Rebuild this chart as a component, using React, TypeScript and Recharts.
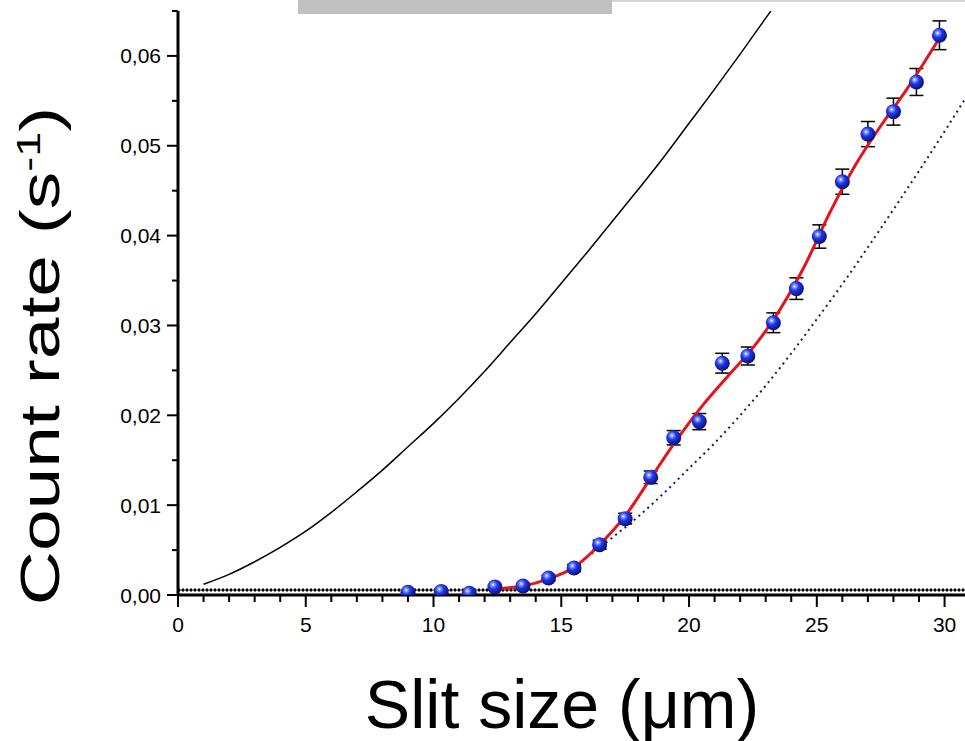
import React from 'react'
import {
  ComposedChart, Line, Scatter, ErrorBar, XAxis, YAxis, ReferenceLine
} from 'recharts'

// measured points
const slitSize = [9.0, 10.3, 11.4, 12.4, 13.5, 14.5, 15.5, 16.5, 17.5, 18.5, 19.4, 20.4, 21.3, 22.3, 23.3, 24.2, 25.1, 26.0, 27.0, 28.0, 28.9, 29.8]
const countRate = [0.0003, 0.0004, 0.0002, 0.0009, 0.0010, 0.0019, 0.0030, 0.0056, 0.0085, 0.0131, 0.0175, 0.0193, 0.0258, 0.0266, 0.0303, 0.0341, 0.0399, 0.0460, 0.0513, 0.0538, 0.0571, 0.0623]
const countErr = [0.0002, 0.0002, 0.0002, 0.0002, 0.0003, 0.0003, 0.0004, 0.0005, 0.0006, 0.0007, 0.0008, 0.0009, 0.0011, 0.0010, 0.0011, 0.0012, 0.0013, 0.0014, 0.0014, 0.0015, 0.0015, 0.0016]

// fit (red)
const fitX = [12.4, 13.5, 14.5, 15.5, 16.5, 17.5, 18.5, 19.5, 20.5, 21.5, 22.5, 23.5, 24.5, 25.5, 26.5, 27.5, 28.5, 29.8]
const fitY = [0.0007, 0.0010, 0.0018, 0.0031, 0.0056, 0.0088, 0.0130, 0.0172, 0.0210, 0.0243, 0.0275, 0.0315, 0.0365, 0.0425, 0.0478, 0.0522, 0.0562, 0.0620]

// ideal curve (solid black)
const idealX = [1, 2, 3, 4, 5, 6, 7, 8, 9, 10, 11, 12, 13, 14, 15, 16, 17, 18, 19, 20, 21, 22, 23, 23.2]
const idealY = [0.0012, 0.0023, 0.0037, 0.0053, 0.0071, 0.0092, 0.0115, 0.0139, 0.0165, 0.0191, 0.0219, 0.0249, 0.0281, 0.0313, 0.0347, 0.0381, 0.0416, 0.0451, 0.0487, 0.0525, 0.0563, 0.0602, 0.0642, 0.0650]

// model curve (dotted)
const modelX = [16, 17, 18, 19, 20, 21, 22, 23, 24, 25, 26, 27, 28, 29, 30, 30.8]
const modelY = [0.0042, 0.0064, 0.0087, 0.0113, 0.0141, 0.0169, 0.0200, 0.0233, 0.0269, 0.0307, 0.0346, 0.0387, 0.0429, 0.0472, 0.0516, 0.0552]

const background = 0.00055

const xTicks = Array.from({ length: 31 }, (_, i) => i)
const yTicks = [0, 0.005, 0.01, 0.015, 0.02, 0.025, 0.03, 0.035, 0.04, 0.045, 0.05, 0.055, 0.06, 0.065]

const FONT = '"Liberation Sans", Arial, sans-serif'

const points = slitSize.map((x, i) => ({ x, y: countRate[i], err: countErr[i] }))
const fit = fitX.map((x, i) => ({ x, y: fitY[i] }))
const ideal = idealX.map((x, i) => ({ x, y: idealY[i] }))
const model = modelX.map((x, i) => ({ x, y: modelY[i] }))

function XTick(props: any) {
  const { x, y, payload } = props
  const major = payload.value % 5 === 0
  return (
    <g>
      <line x1={x} x2={x} y1={y} y2={y + (major ? 12 : 7)} stroke="#000" strokeWidth={2} />
      {major && (
        <text x={x} y={y + 37} textAnchor="middle" fontSize={21} fontFamily={FONT} fill="#000">
          {payload.value}
        </text>
      )}
    </g>
  )
}

function YTick(props: any) {
  const { x, y, payload } = props
  const v = payload.value
  const major = Math.round(v * 1000) % 10 === 0
  return (
    <g>
      <line x1={x} x2={x - (major ? 11 : 6)} y1={y} y2={y} stroke="#000" strokeWidth={2} />
      {major && (
        <text x={x - 17} y={y + 7.5} textAnchor="end" fontSize={21} fontFamily={FONT} fill="#000">
          {v.toFixed(2).replace('.', ',')}
        </text>
      )}
    </g>
  )
}

function Ball(props: any) {
  const { cx, cy } = props
  if (cx == null || cy == null) return null
  return <circle cx={cx} cy={cy} r={7.5} fill="url(#ball)" />
}

export default function App() {
  return (
    <div style={{ position: 'absolute', left: 0, top: 0, width: 965, height: 741, background: '#fff', overflow: 'hidden' }}>
      <svg width={0} height={0} style={{ position: 'absolute' }}>
        <defs>
          <radialGradient id="ball" cx="38%" cy="35%" r="65%">
            <stop offset="0%" stopColor="#ffffff" />
            <stop offset="18%" stopColor="#7f95ff" />
            <stop offset="45%" stopColor="#1f35f0" />
            <stop offset="100%" stopColor="#0c1070" />
          </radialGradient>
        </defs>
      </svg>
      <div style={{ position: 'absolute', left: 298, top: 0, width: 314, height: 14, background: '#c0c0c0' }} />
      <div style={{ position: 'absolute', left: 612, top: 0, width: 353, height: 2, background: '#d4d4d4' }} />
      <ComposedChart width={965} height={741} margin={{ top: 11, right: 0, bottom: 0, left: 0 }}>
        <XAxis
          type="number"
          dataKey="x"
          domain={[0, 30.8]}
          ticks={xTicks}
          interval={0}
          height={146}
          tickSize={0}
          tickMargin={0}
          tickLine={false}
          tick={<XTick />}
          axisLine={{ stroke: '#000', strokeWidth: 3 }}
          allowDataOverflow
        />
        <YAxis
          type="number"
          dataKey="y"
          domain={[0, 0.065]}
          ticks={yTicks}
          interval={0}
          width={178}
          tickSize={0}
          tickMargin={0}
          tickLine={false}
          tick={<YTick />}
          axisLine={{ stroke: '#000', strokeWidth: 3 }}
          allowDataOverflow
        />
        <ReferenceLine y={background} stroke="#000" strokeWidth={1} />
        <ReferenceLine y={background} stroke="#000" strokeWidth={3} strokeDasharray="2 2" />
        <Line data={ideal} dataKey="y" type="monotone" stroke="#000" strokeWidth={1.5} dot={false} isAnimationActive={false} />
        <Line data={model} dataKey="y" type="monotone" stroke="#1a1a50" strokeWidth={2} strokeDasharray="2 4" dot={false} isAnimationActive={false} />
        <Scatter data={points} dataKey="y" shape={<Ball />} isAnimationActive={false}>
          <ErrorBar dataKey="err" direction="y" width={7} stroke="#000" strokeWidth={1.5} />
        </Scatter>
        <Line data={fit} dataKey="y" type="monotone" stroke="#e3141b" strokeWidth={3} dot={false} isAnimationActive={false} />
      </ComposedChart>
      <div
        style={{
          position: 'absolute', left: 40, top: 356,
          transform: 'translate(-50%, -50%) rotate(-90deg) scaleY(0.74)',
          fontFamily: FONT, fontSize: 75, lineHeight: 1, whiteSpace: 'nowrap', color: '#000'
        }}
      >
        Count rate (s<sup style={{ fontSize: '0.6em' }}>-1</sup>)
      </div>
      <div
        style={{
          position: 'absolute', left: 562, top: 670,
          transform: 'translateX(-50%)',
          fontFamily: FONT, fontSize: 68, lineHeight: 1, whiteSpace: 'nowrap', color: '#000'
        }}
      >
        Slit size (μm)
      </div>
    </div>
  )
}
